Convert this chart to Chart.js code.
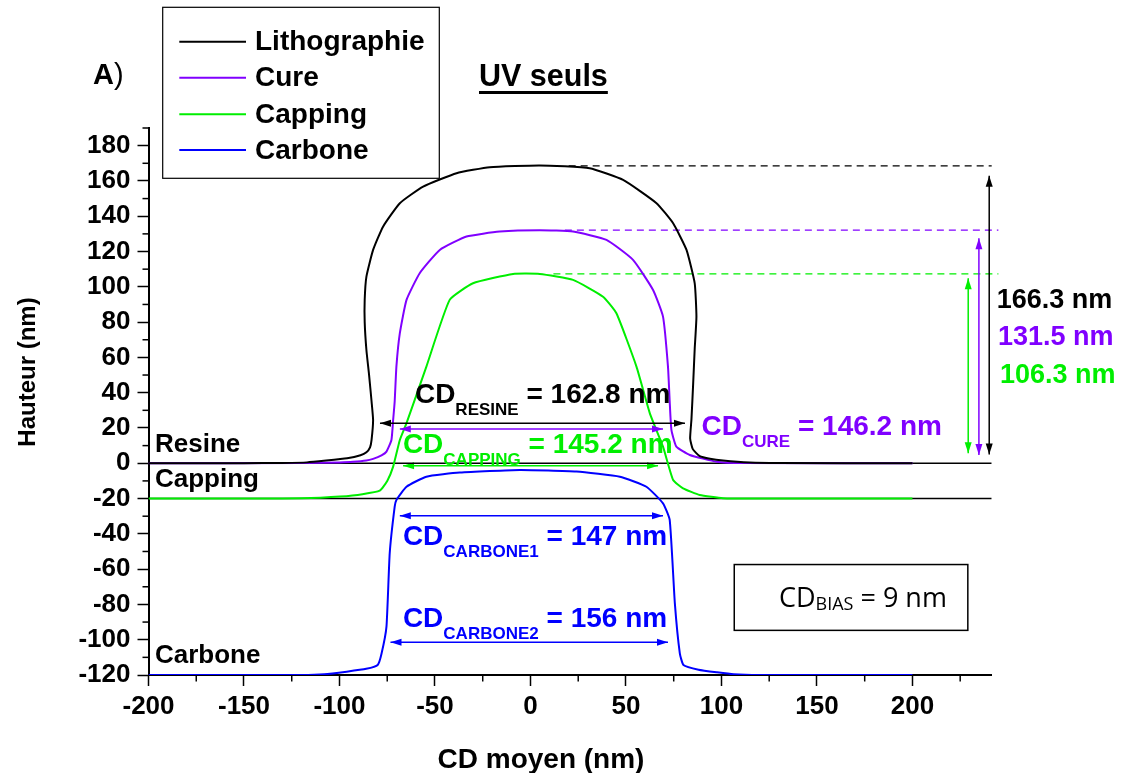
<!DOCTYPE html>
<html><head><meta charset="utf-8">
<script src="https://cdn.jsdelivr.net/npm/chart.js@4.4.0/dist/chart.umd.min.js"></script>
<style>html,body{margin:0;padding:0;background:#fff;}#wrap{width:1127px;height:773px;position:relative;}</style>
</head><body><div id="wrap"><canvas id="c" width="1127" height="773"></canvas></div>
<script>
// ---------- data ----------
const seriesNames = ['Lithographie', 'Cure', 'Capping', 'Carbone'];
const seriesColors = ['#000000', '#8000ff', '#00ee00', '#0000ff'];

const lithoX = [-200,-150,-130,-117,-107,-96,-89,-85.9,-84,-83.2,-82.4,-83.2,-84.5,-85.9,-86.8,-86.8,-85.9,-82.4,-77.2,-68.4,-56.2,-38.7,-21.3,4.9,31,48.5,66,74.7,81.7,86,86.9,86,85.2,84.3,83.6,85,88.6,94,100.8,114.8,130,200];
const lithoY = [0,0,0.2,0.5,1.5,2.8,4.5,6.2,9,13.2,24.5,35,50,64.2,80,92.7,105.8,120.9,134.1,147.4,156.8,164.4,167.8,168.8,167.2,160.6,147.4,136,120.9,102,83.1,65,45.4,25,14,8,4,2.5,1.5,0.4,0.1,0];

const cureX = [-200,-120,-100,-92.9,-86,-82.4,-78,-75.4,-72.8,-71.9,-71.1,-70.2,-68.4,-64.9,-58,-47.5,-33.5,-16.1,4.9,22.3,39.8,53.7,64.2,69.4,72,72.9,73.8,76.4,83.4,97.4,111,200];
const cureY = [0,0.1,0.5,0.8,1.5,2.5,4.5,6.6,13.2,24.5,35,54.8,73.7,92.6,107.7,120.9,128.5,131.3,132.1,131.3,126.6,115.3,98.2,83.1,54.8,35,18.9,9.4,4.7,0.9,0.1,0];

const cappingX = [-200,-130,-110,-99.8,-88,-78.9,-75,-71.9,-68.4,-64.9,-54.5,-42.3,-30.1,-9.1,4.9,22.3,38,45,55.5,62.5,69.4,74.7,79.9,88.6,100.8,120,200];
const cappingY = [-20,-20,-19.5,-18.9,-17.5,-15.5,-10,-1.9,13.2,22.7,54.8,92.6,102,107.3,107.3,103.9,94.4,85,54.8,28.3,9.4,-9.5,-14.2,-18,-19.8,-20,-20];

const carboneX = [-200,-120,-108,-96.2,-86,-80,-78,-75.4,-73.7,-71.1,-70.2,-64.9,-54.5,-37,-5.6,24.1,46.8,60.7,69.4,72.9,75.6,78.2,80.1,88,97.7,106.4,120,200];
const carboneY = [-120,-120,-119.6,-118.1,-116.5,-114.3,-108,-92.6,-51,-24.6,-20.8,-13.3,-7.6,-5.3,-3.8,-4.7,-7.6,-13.3,-22.7,-32.1,-79.4,-107.7,-114.3,-117,-118.5,-119.6,-120,-120];

// layer reference lines (Resine top = 0, Capping top = -20)
const layerLevels = [0, -20];
const layerLabels = ['Resine', 'Capping', 'Carbone'];
const layerLabelLevels = [6.2, -13.3, -113.4];

// height (dashed) levels and heights
const heightLevels = [168.5, 132.1, 107.3];
const heightStartX = [20, 18, 12];
const heightLabels = ['166.3 nm', '131.5 nm', '106.3 nm'];
const heightArrowX = [240.2, 234.8, 229.2];
const heightArrowLow = [5, 4.7, 5.7];
const heightArrowHigh = [163, 127.5, 104.9];

// CD arrows
const cdNames = ['RESINE', 'CURE', 'CAPPING', 'CARBONE1', 'CARBONE2'];
const cdValues = ['162.8', '146.2', '145.2', '147', '156'];
const cdArrowY = [22.7, 19.4, -1.4, -29.7, -101.5];
const cdArrowX0 = [-78.8, -68.4, -66.7, -68.4, -73.3];
const cdArrowX1 = [80.9, 69.4, 66.8, 69.4, 72.0];
const cdColors = ['#000000', '#8000ff', '#00ee00', '#0000ff', '#0000ff'];

const xTickValues = [-200,-150,-100,-50,0,50,100,150,200];
const xMinorValues = [-175,-125,-75,-25,25,75,125,175,225];
const yTickValues = [-120,-100,-80,-60,-40,-20,0,20,40,60,80,100,120,140,160,180];
const yMinorValues = [-110,-90,-70,-50,-30,-10,10,30,50,70,90,110,130,150,170,190];
const X_MIN = -200, X_MAX = 241.5, Y_MIN = -120, Y_MAX = 190;

// ---------- helpers ----------
const FAM = "'Liberation Sans', Arial, sans-serif";
const pts = (xs, ys) => xs.map((x, i) => ({x, y: ys[i]}));

function arrow(ctx, x1, y1, x2, y2, color, lw) {
  ctx.save();
  ctx.strokeStyle = color; ctx.fillStyle = color; ctx.lineWidth = lw;
  ctx.beginPath(); ctx.moveTo(x1, y1); ctx.lineTo(x2, y2); ctx.stroke();
  const head = (xa, ya, xb, yb) => {
    const a = Math.atan2(yb - ya, xb - xa), L = 11, W = 3.5;
    ctx.beginPath(); ctx.moveTo(xb, yb);
    ctx.lineTo(xb - L * Math.cos(a) + W * Math.sin(a), yb - L * Math.sin(a) - W * Math.cos(a));
    ctx.lineTo(xb - L * Math.cos(a) - W * Math.sin(a), yb - L * Math.sin(a) + W * Math.cos(a));
    ctx.closePath(); ctx.fill();
  };
  head(x1, y1, x2, y2); head(x2, y2, x1, y1);
  ctx.restore();
}

function subLabel(ctx, x, y, main, sub, rest, color, size, subSize, subDy, weight, fam) {
  ctx.save();
  ctx.fillStyle = color; ctx.textAlign = 'left'; ctx.textBaseline = 'alphabetic';
  ctx.font = weight + ' ' + size + 'px ' + fam; ctx.fillText(main, x, y);
  let w = ctx.measureText(main).width;
  ctx.font = weight + ' ' + subSize + 'px ' + fam; ctx.fillText(sub, x + w, y + subDy);
  w += ctx.measureText(sub).width;
  ctx.font = weight + ' ' + size + 'px ' + fam; ctx.fillText(rest, x + w, y);
  ctx.restore();
}

const decor = {
  id: 'decor',
  beforeDatasetsDraw(chart) {
    const ctx = chart.ctx, xs = chart.scales.x, ys = chart.scales.y;
    arrow(ctx, xs.getPixelForValue(cdArrowX0[2]), ys.getPixelForValue(cdArrowY[2]),
      xs.getPixelForValue(cdArrowX1[2]), ys.getPixelForValue(cdArrowY[2]), cdColors[2], 1.5);
  },
  afterDatasetsDraw(chart) {
    const ctx = chart.ctx, xs = chart.scales.x, ys = chart.scales.y;
    const px = v => xs.getPixelForValue(v), py = v => ys.getPixelForValue(v);
    // minor ticks
    ctx.save(); ctx.strokeStyle = '#000'; ctx.lineWidth = 1.5;
    const bottom = chart.chartArea.bottom, left = chart.chartArea.left;
    xMinorValues.forEach(v => { const p = px(v); ctx.beginPath(); ctx.moveTo(p, bottom); ctx.lineTo(p, bottom + 6.5); ctx.stroke(); });
    yMinorValues.forEach(v => { const p = py(v); ctx.beginPath(); ctx.moveTo(left, p); ctx.lineTo(left - 6, p); ctx.stroke(); });
    ctx.restore();

    const hCols = [seriesColors[0], seriesColors[1], seriesColors[2]];
    heightArrowX.forEach((x, i) => arrow(ctx, px(x), py(heightArrowLow[i]), px(x), py(heightArrowHigh[i]), hCols[i], 1.5));
    ctx.save(); ctx.font = 'bold 27px ' + FAM; ctx.textBaseline = 'alphabetic';
    const hlx = [244.1, 244.8, 245.8], hly = [87.9, 67.1, 45.4];
    heightLabels.forEach((t, i) => { ctx.fillStyle = hCols[i]; ctx.fillText(t, px(hlx[i]), py(hly[i])); });
    ctx.restore();

    [0, 1, 3, 4].forEach(i => arrow(ctx, px(cdArrowX0[i]), py(cdArrowY[i]), px(cdArrowX1[i]), py(cdArrowY[i]), cdColors[i], 1.5));

    const lx = [-60.5, 89.6, -66.8, -66.8, -66.8], ly = [34.2, 16.0, 5.8, -46.3, -92.8];
    cdNames.forEach((n, i) => subLabel(ctx, px(lx[i]), py(ly[i]), 'CD', n, ' = ' + cdValues[i] + ' nm', cdColors[i], 28, 17, 12, 'bold', FAM));

    ctx.save(); ctx.font = 'bold 26px ' + FAM; ctx.fillStyle = '#000'; ctx.textBaseline = 'alphabetic';
    layerLabels.forEach((t, i) => ctx.fillText(t, px(-196.6), py(layerLabelLevels[i])));
    ctx.restore();

    ctx.save();
    const bx0 = px(106.7), bx1 = px(229), by0 = py(-57.4), by1 = py(-94.7);
    ctx.fillStyle = '#fff'; ctx.fillRect(bx0, by0, bx1 - bx0, by1 - by0);
    ctx.strokeStyle = '#000'; ctx.lineWidth = 1.5; ctx.strokeRect(bx0, by0, bx1 - bx0, by1 - by0);
    ctx.restore();
    subLabel(ctx, px(130.1), py(-81.5), 'CD', 'BIAS', ' = 9 nm', '#000', 27, 18, 3, 'normal', "'Open Sans', sans-serif");
  },
  afterDraw(chart) {
    const ctx = chart.ctx;
    ctx.save();
    ctx.fillStyle = '#fff'; ctx.fillRect(162.7, 7.3, 276.6, 171);
    ctx.strokeStyle = '#000'; ctx.lineWidth = 1.2; ctx.strokeRect(162.7, 7.3, 276.6, 171);
    const ly = [41.7, 77.7, 114.3, 150];
    ctx.font = 'bold 28px ' + FAM; ctx.textBaseline = 'middle';
    seriesNames.forEach((n, i) => {
      ctx.strokeStyle = seriesColors[i]; ctx.lineWidth = 2;
      ctx.beginPath(); ctx.moveTo(179.3, ly[i]); ctx.lineTo(246, ly[i]); ctx.stroke();
      ctx.fillStyle = '#000'; ctx.fillText(n, 255, ly[i] + 1);
    });
    ctx.textBaseline = 'alphabetic';
    ctx.font = 'bold 29px ' + FAM; ctx.fillText('A', 93, 83.5);
    const wa = ctx.measureText('A').width;
    ctx.font = 'normal 29px ' + FAM; ctx.fillText(')', 93 + wa, 83.5);
    ctx.font = 'bold 30.5px ' + FAM; ctx.fillText('UV seuls', 479, 86);
    const wt = ctx.measureText('UV seuls').width;
    ctx.fillRect(479, 91, wt, 3);
    ctx.font = 'bold 28px ' + FAM; ctx.textAlign = 'center';
    ctx.fillText('CD moyen (nm)', 541, 768);
    ctx.translate(35, 372); ctx.rotate(-Math.PI / 2);
    ctx.font = 'bold 24px ' + FAM; ctx.fillText('Hauteur (nm)', 0, 0);
    ctx.restore();
  }
};

const lineDs = (label, data, color, width, extra) => Object.assign({
  label, data, borderColor: color, backgroundColor: color, borderWidth: width,
  showLine: true, pointRadius: 0, pointHoverRadius: 0, fill: false, tension: 0.15
}, extra || {});

const datasets = [
  lineDs(seriesNames[0], pts(lithoX, lithoY), seriesColors[0], 2),
  lineDs(seriesNames[1], pts(cureX, cureY), seriesColors[1], 2),
  lineDs(seriesNames[2], pts(cappingX, cappingY), seriesColors[2], 2),
  lineDs(seriesNames[3], pts(carboneX, carboneY), seriesColors[3], 2),
  lineDs('ref0', pts([X_MIN, X_MAX], [layerLevels[0], layerLevels[0]]), '#000', 1.5, {tension: 0}),
  lineDs('ref20', pts([X_MIN, X_MAX], [layerLevels[1], layerLevels[1]]), '#000', 1.5, {tension: 0}),
  lineDs('h0', pts([heightStartX[0], X_MAX], [heightLevels[0], heightLevels[0]]), seriesColors[0], 1.3, {tension: 0, borderDash: [7, 5], clip: false}),
  lineDs('h1', pts([heightStartX[1], 245], [heightLevels[1], heightLevels[1]]), seriesColors[1], 1.3, {tension: 0, borderDash: [7, 5], clip: false}),
  lineDs('h2', pts([heightStartX[2], 245], [heightLevels[2], heightLevels[2]]), seriesColors[2], 1.3, {tension: 0, borderDash: [7, 5], clip: false})
];

const tickFont = {family: FAM, size: 26, weight: 'bold'};
new Chart(document.getElementById('c'), {
  type: 'scatter',
  data: {datasets},
  plugins: [decor],
  options: {
    responsive: false, animation: false, devicePixelRatio: 1,
    layout: {padding: {left: 0, right: 1127 - 991.7, top: 128, bottom: 0}},
    plugins: {legend: {display: false}, tooltip: {enabled: false}, title: {display: false}},
    scales: {
      x: {
        type: 'linear', position: 'bottom', min: X_MIN, max: X_MAX,
        afterBuildTicks: s => { s.ticks = xTickValues.map(v => ({value: v})); },
        afterFit: s => { s.height = 98; },
        ticks: {font: tickFont, color: '#000', padding: 5, maxRotation: 0, autoSkip: false, callback: v => String(v)},
        grid: {display: true, drawOnChartArea: false, drawTicks: true, tickLength: 11, tickColor: '#000', tickWidth: 1.5},
        border: {display: true, color: '#000', width: 2}
      },
      y: {
        type: 'linear', position: 'left', min: Y_MIN, max: Y_MAX,
        afterBuildTicks: s => { s.ticks = yTickValues.map(v => ({value: v})); },
        afterFit: s => { s.width = 148.5; },
        ticks: {font: tickFont, color: '#000', padding: 7, autoSkip: false, callback: v => String(v)},
        grid: {display: true, drawOnChartArea: false, drawTicks: true, tickLength: 11, tickColor: '#000', tickWidth: 1.5},
        border: {display: true, color: '#000', width: 2}
      }
    }
  }
});
</script></body></html>
